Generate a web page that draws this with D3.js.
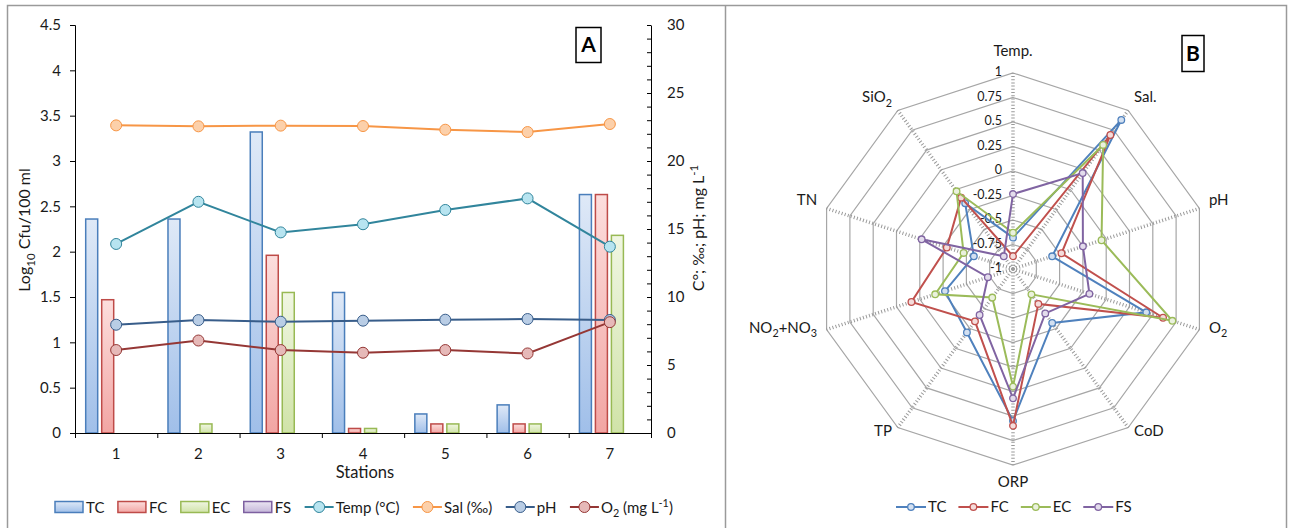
<!DOCTYPE html>
<html>
<head>
<meta charset="utf-8">
<script src="https://cdn.jsdelivr.net/npm/d3@7"></script>
<style>
  body { margin: 0; background: #fff; }
  svg { display: block; font-family: Lato, "Open Sans", sans-serif; }
</style>
</head>
<body>
<svg id="chart"></svg>
<script>
// Panel A: stations, log10 counts (left axis) and water parameters (right axis)
const stations = ["1", "2", "3", "4", "5", "6", "7"];
const barSeries = ["TC", "FC", "EC", "FS"];
const tcLog = [2.36, 2.36, 3.32, 1.55, 0.21, 0.31, 2.63];
const fcLog = [1.47, 0, 1.96, 0.05, 0.1, 0.1, 2.63];
const ecLog = [0, 0.1, 1.55, 0.05, 0.1, 0.1, 2.18];
const fsLog = [0, 0, 0, 0, 0, 0, 0];
const tempC = [13.9, 17.0, 14.75, 15.35, 16.4, 17.25, 13.7];
const salinity = [22.62, 22.55, 22.6, 22.57, 22.3, 22.13, 22.72];
const ph = [7.96, 8.3, 8.18, 8.26, 8.33, 8.38, 8.31];
const oxygen = [6.1, 6.8, 6.1, 5.9, 6.1, 5.85, 8.15];
const leftTicks = [0, 0.5, 1, 1.5, 2, 2.5, 3, 3.5, 4, 4.5];
const rightTicks = [0, 5, 10, 15, 20, 25, 30];

// Panel B: correlation radar
const radarAxes = ["Temp.", "Sal.", "pH", "O_{2}", "CoD", "ORP", "TP", "NO_{2}+NO_{3}", "TN", "SiO_{2}"];
const radarSeries = ["TC", "FC", "EC", "FS"];
const radarTC = [-0.68, 0.88, -0.58, 0.43, -0.32, 0.55, -0.20, -0.27, -0.58, -0.17];
const radarFC = [-0.87, 0.69, -0.48, 0.61, -0.56, 0.60, -0.34, 0.09, -0.29, -0.10];
const radarEC = [-0.63, 0.565, -0.05, 0.71, -0.68, 0.20, -0.64, -0.165, -0.47, -0.02];
const radarFS = [-0.235, 0.21, -0.25, -0.18, -0.44, 0.32, -0.42, -0.73, -0.02, -0.84];
const radarTicks = [-1, -0.75, -0.5, -0.25, 0, 0.25, 0.5, 0.75, 1];
const radarTickLabels = ["-1", "-0.75", "-0.5", "-0.25", "0", "0.25", "0.5", "0.75", "1"];

const barColors = {
  TC: { stroke: "#4a7ebb", top: "#dfe9f7", bottom: "#a0bfe9" },
  FC: { stroke: "#be4b48", top: "#fcdedd", bottom: "#f2a5a3" },
  EC: { stroke: "#98b954", top: "#f0f6e2", bottom: "#d0e3a8" },
  FS: { stroke: "#7d60a0", top: "#ebe5f2", bottom: "#c4b6d9" }
};
const lineColors = {
  temp: { stroke: "#31859c", fill: "#b7e4f0" },
  sal: { stroke: "#f79646", fill: "#fcd0aa" },
  ph: { stroke: "#385d8a", fill: "#b9cde5" },
  o2: { stroke: "#953735", fill: "#e6b9b8" }
};
const radarColors = { TC: "#4f81bd", FC: "#c0504d", EC: "#9bbb59", FS: "#8064a2" };
const radarFills = { TC: "#d3e0f1", FC: "#f4dcdb", EC: "#eaf1dd", FS: "#e3dcec" };

var svg = d3.select("#chart")
  .attr("width", 1292)
  .attr("height", 528)
  .attr("viewBox", [0, 0, 1292, 528]);

// writes "_{x}" as subscript and "^{x}" as superscript
function richText(text, label, size) {
  const re = /([_^])\{([^}]*)\}/g;
  let last = 0, shift = 0, m;
  while ((m = re.exec(label))) {
    if (m.index > last) {
      text.append("tspan").attr("dy", -shift).text(label.slice(last, m.index));
      shift = 0;
    }
    const s = m[1] === "_" ? size * 0.3 : -size * 0.4;
    text.append("tspan").attr("dy", s - shift).attr("font-size", size * 0.72).text(m[2]);
    shift = s;
    last = re.lastIndex;
  }
  if (last < label.length) text.append("tspan").attr("dy", -shift).text(label.slice(last));
  return text;
}

// frame
svg.append("rect")
  .attr("x", 7.5).attr("y", 5.5).attr("width", 1279).attr("height", 530)
  .attr("fill", "none").attr("stroke", "#9a9a9a").attr("stroke-width", 1.5);
svg.append("line")
  .attr("x1", 725.5).attr("x2", 725.5).attr("y1", 5).attr("y2", 528)
  .attr("stroke", "#9a9a9a").attr("stroke-width", 1.5);

// gradients for bars
const defs = svg.append("defs");
barSeries.forEach(s => {
  const g = defs.append("linearGradient").attr("id", "grad-" + s)
    .attr("x1", 0).attr("x2", 0).attr("y1", 0).attr("y2", 1);
  g.append("stop").attr("offset", "0%").attr("stop-color", barColors[s].top);
  g.append("stop").attr("offset", "100%").attr("stop-color", barColors[s].bottom);
});

// ---------- Panel A ----------
const x = d3.scaleBand().domain(stations).range([75, 651]);
const xSub = d3.scaleBand().domain(barSeries).range([10.7, x.bandwidth() - 11.6]).paddingInner(0.25);
const xEdge = d3.scaleLinear().domain([0, stations.length]).range([75, 651]);
const yLeft = d3.scaleLinear().domain([0, 4.5]).range([433, 25]);
const yRight = d3.scaleLinear().domain([0, 30]).range([433, 25]);

const barArrays = [tcLog, fcLog, ecLog, fsLog];
const barData = barSeries
  .flatMap((s, i) => barArrays[i].map((v, j) => ({ series: s, station: stations[j], value: v })))
  .filter(d => d.value > 0);

svg.append("g")
  .selectAll("rect")
  .data(barData)
  .enter().append("rect")
    .attr("x", d => x(d.station) + xSub(d.series))
    .attr("y", d => yLeft(d.value))
    .attr("width", xSub.bandwidth())
    .attr("height", d => yLeft(0) - yLeft(d.value))
    .attr("fill", d => `url(#grad-${d.series})`)
    .attr("stroke", d => barColors[d.series].stroke)
    .attr("stroke-width", 1.5);

// axes
const axL = svg.append("g")
  .attr("transform", "translate(75,0)")
  .call(d3.axisLeft(yLeft).tickValues(leftTicks).tickSize(5).tickPadding(9).tickFormat(d => String(d)));
axL.attr("font-family", null).attr("font-size", 15).selectAll("text").attr("fill", "#1a1a1a");

svg.append("g")
  .attr("transform", "translate(651,0)")
  .call(d3.axisRight(yRight).tickValues(d3.range(0, 31)).tickSizeInner(-4).tickSizeOuter(0).tickFormat(() => ""))
  .select(".domain").remove();
const axR = svg.append("g")
  .attr("transform", "translate(651,0)")
  .call(d3.axisRight(yRight).tickValues(rightTicks).tickSizeInner(-4).tickSizeOuter(0).tickPadding(16));
axR.attr("font-family", null).attr("font-size", 15).selectAll("text").attr("fill", "#1a1a1a");

svg.append("g")
  .attr("transform", "translate(0,433)")
  .call(d3.axisBottom(xEdge).tickValues(d3.range(stations.length + 1)).tickSize(5).tickFormat(() => ""));
const axB = svg.append("g")
  .attr("transform", "translate(0,433)")
  .call(d3.axisBottom(x).tickSize(0).tickPadding(15));
axB.select(".domain").remove();
axB.attr("font-family", null).attr("font-size", 15).selectAll("text").attr("fill", "#1a1a1a");

svg.append("text")
  .attr("x", 365).attr("y", 478)
  .attr("text-anchor", "middle").attr("font-size", 16.5).attr("fill", "#1a1a1a")
  .text("Stations");

richText(svg.append("text")
  .attr("transform", "translate(30,230) rotate(-90)")
  .attr("text-anchor", "middle").attr("font-size", 16).attr("fill", "#1a1a1a"), "Log_{10} Cfu/100 ml", 16);

richText(svg.append("text")
  .attr("transform", "translate(704,228) rotate(-90)")
  .attr("text-anchor", "middle").attr("font-size", 16).attr("fill", "#1a1a1a"), "C°; ‰; pH; mg L^{-1}", 16);

// lines
const lineSeries = [
  { key: "temp", values: tempC },
  { key: "sal", values: salinity },
  { key: "ph", values: ph },
  { key: "o2", values: oxygen }
];
const lineGen = d3.line()
  .x((d, i) => x(stations[i]) + x.bandwidth() / 2)
  .y(d => yRight(d));

lineSeries.forEach(s => {
  const g = svg.append("g");
  g.append("path")
    .attr("d", lineGen(s.values))
    .attr("fill", "none")
    .attr("stroke", lineColors[s.key].stroke)
    .attr("stroke-width", 2);
  g.selectAll("circle")
    .data(s.values)
    .enter().append("circle")
      .attr("cx", (d, i) => x(stations[i]) + x.bandwidth() / 2)
      .attr("cy", d => yRight(d))
      .attr("r", 5.5)
      .attr("fill", lineColors[s.key].fill)
      .attr("stroke", lineColors[s.key].stroke)
      .attr("stroke-width", 1);
});

// "A" tag
svg.append("rect").attr("x", 576).attr("y", 27.5).attr("width", 25).attr("height", 35)
  .attr("fill", "#fff").attr("stroke", "#000").attr("stroke-width", 1.5);
svg.append("text").attr("x", 588.5).attr("y", 52).attr("text-anchor", "middle")
  .attr("font-size", 21).attr("font-weight", "bold").text("A");

// legend A
const legendA = [
  { type: "bar", key: "TC", label: "TC" },
  { type: "bar", key: "FC", label: "FC" },
  { type: "bar", key: "EC", label: "EC" },
  { type: "bar", key: "FS", label: "FS" },
  { type: "line", key: "temp", label: "Temp (°C)" },
  { type: "line", key: "sal", label: "Sal (‰)" },
  { type: "line", key: "ph", label: "pH" },
  { type: "line", key: "o2", label: "O_{2} (mg L^{-1})" }
];
let lx = 55;
const ly = 507;
legendA.forEach(it => {
  const g = svg.append("g");
  if (it.type === "bar") {
    g.append("rect").attr("x", lx).attr("y", ly - 5.5).attr("width", 28).attr("height", 11)
      .attr("fill", `url(#grad-${it.key})`).attr("stroke", barColors[it.key].stroke).attr("stroke-width", 1.5);
  } else {
    g.append("line").attr("x1", lx).attr("x2", lx + 29).attr("y1", ly).attr("y2", ly)
      .attr("stroke", lineColors[it.key].stroke).attr("stroke-width", 2);
    g.append("circle").attr("cx", lx + 14.5).attr("cy", ly).attr("r", 5.5)
      .attr("fill", lineColors[it.key].fill).attr("stroke", lineColors[it.key].stroke);
  }
  const t = richText(g.append("text").attr("x", lx + 31).attr("y", ly + 5.5)
    .attr("font-size", 15).attr("fill", "#1a1a1a"), it.label, 15);
  lx += 31 + t.node().getComputedTextLength() + 13.5;
});

// ---------- Panel B ----------
const cx = 1013, cy = 269, R = 196;
const rScale = d3.scaleLinear().domain([-1, 1]).range([0, R]);
const ang = i => i * 2 * Math.PI / radarAxes.length;
const radar = svg.append("g").attr("transform", `translate(${cx},${cy})`);

// rings
radar.append("g")
  .selectAll("path")
  .data(radarTicks.slice(1))
  .enter().append("path")
    .attr("d", t => d3.lineRadial().angle((d, i) => ang(i)).radius(rScale(t)).curve(d3.curveLinearClosed)(radarAxes))
    .attr("fill", "none")
    .attr("stroke", "#a6a6a6")
    .attr("stroke-width", 1.2);

// spokes
radar.append("g")
  .selectAll("line")
  .data(radarAxes)
  .enter().append("line")
    .attr("x1", 0).attr("y1", 0)
    .attr("x2", (d, i) => R * Math.sin(ang(i)))
    .attr("y2", (d, i) => -R * Math.cos(ang(i)))
    .attr("stroke", "#9a9a9a")
    .attr("stroke-width", 3.5)
    .attr("stroke-dasharray", "1 2.2");

// ring labels
radar.append("g")
  .selectAll("text")
  .data(radarTicks)
  .enter().append("text")
    .attr("x", -11)
    .attr("y", t => -rScale(t) - 1)
    .attr("dy", "0.35em")
    .attr("text-anchor", "end")
    .attr("font-size", 12.5)
    .attr("fill", "#1a1a1a")
    .text((t, i) => radarTickLabels[i]);

// axis labels
radarAxes.forEach((name, i) => {
  const a = ang(i), s = Math.sin(a), c = Math.cos(a);
  let tx = (R + 10) * s, ty = -(R + 10) * c;
  let anchor = s > 0.1 ? "start" : s < -0.1 ? "end" : "middle";
  if (Math.abs(s) < 0.1) ty = c > 0 ? -R - 17 : R + 22;
  richText(radar.append("text")
    .attr("x", tx).attr("y", ty).attr("dy", "0.35em")
    .attr("text-anchor", anchor).attr("font-size", 15).attr("fill", "#1a1a1a"), name, 15);
});

// series
const radarArrays = [radarTC, radarFC, radarEC, radarFS];
radarSeries.forEach((s, k) => {
  const vals = radarArrays[k];
  radar.append("path")
    .attr("d", d3.lineRadial().angle((d, i) => ang(i)).radius(d => rScale(d)).curve(d3.curveLinearClosed)(vals))
    .attr("fill", "none")
    .attr("stroke", radarColors[s])
    .attr("stroke-width", 2);
  radar.append("g")
    .selectAll("circle")
    .data(vals)
    .enter().append("circle")
      .attr("cx", (d, i) => rScale(d) * Math.sin(ang(i)))
      .attr("cy", (d, i) => -rScale(d) * Math.cos(ang(i)))
      .attr("r", 3.3)
      .attr("fill", radarFills[s])
      .attr("stroke", radarColors[s])
      .attr("stroke-width", 1.3);
});

// "B" tag
svg.append("rect").attr("x", 1182).attr("y", 35.5).attr("width", 22).attr("height", 36)
  .attr("fill", "#fff").attr("stroke", "#000").attr("stroke-width", 1.5);
svg.append("text").attr("x", 1193).attr("y", 60.5).attr("text-anchor", "middle")
  .attr("font-size", 21).attr("font-weight", "bold").text("B");

// legend B
let bx = 896;
radarSeries.forEach(s => {
  const g = svg.append("g");
  g.append("line").attr("x1", bx).attr("x2", bx + 30).attr("y1", ly).attr("y2", ly)
    .attr("stroke", radarColors[s]).attr("stroke-width", 2);
  g.append("circle").attr("cx", bx + 15).attr("cy", ly).attr("r", 3.3)
    .attr("fill", radarFills[s]).attr("stroke", radarColors[s]).attr("stroke-width", 1.3);
  const t = g.append("text").attr("x", bx + 32).attr("y", ly + 5)
    .attr("font-size", 15).attr("fill", "#1a1a1a").text(s);
  bx += 32 + t.node().getComputedTextLength() + 12;
});
</script>
</body>
</html>
